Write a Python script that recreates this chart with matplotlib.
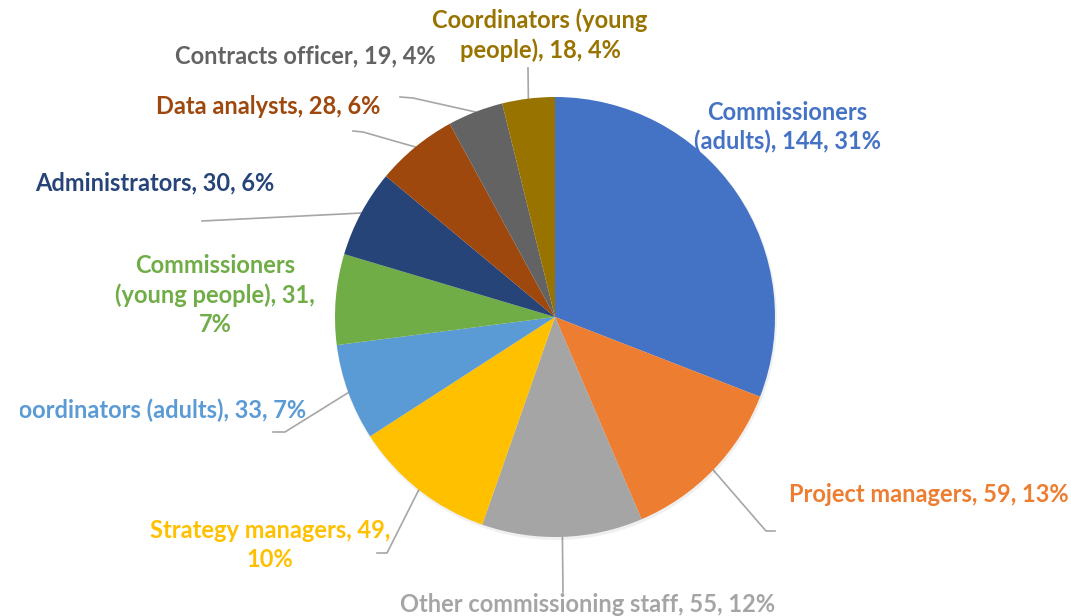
import numpy as np
import matplotlib
matplotlib.use("Agg")
import matplotlib.pyplot as plt
from matplotlib.patches import Rectangle

# ---- data -------------------------------------------------------------------
roles = [
    "Commissioners\n(adults)",
    "Project managers",
    "Other commissioning staff",
    "Strategy managers",
    "Coordinators (adults)",
    "Commissioners\n(young people)",
    "Administrators",
    "Data analysts",
    "Contracts officer",
    "Coordinators (young\npeople)",
]
counts = [144, 59, 55, 49, 33, 31, 30, 28, 19, 18]
percents = [31, 13, 12, 10, 7, 7, 6, 6, 4, 4]
label_texts = [
    "Commissioners\n(adults), 144, 31%",
    "Project managers, 59, 13%",
    "Other commissioning staff, 55, 12%",
    "Strategy managers, 49,\n10%",
    "Coordinators (adults), 33, 7%",
    "Commissioners\n(young people), 31,\n7%",
    "Administrators, 30, 6%",
    "Data analysts, 28, 6%",
    "Contracts officer, 19, 4%",
    "Coordinators (young\npeople), 18, 4%",
]
colors = ["#4472C4", "#ED7D31", "#A5A5A5", "#FFC000", "#5B9BD5",
          "#70AD47", "#264478", "#9E480E", "#636363", "#997300"]

W, H = 1071, 616
CX, CY, R = 555, 317, 220

# label layout in pixel coords (x, y from top), alignment, leader elbow (or None)
label_layout = [
    ((787, 127), "center", None),
    ((929, 495), "center", [(775, 531), (766, 531)]),
    ((588, 604), "center", [(563, 592)]),
    ((270, 545), "center", [(377, 553), (387, 553)]),
    ((306, 410), "right", [(273, 432), (285, 432)]),
    ((215, 295), "center", None),
    ((155, 183), "center", [(202, 221)]),
    ((268, 106), "center", [(353, 131), (363, 132)]),
    ((305, 56), "center", [(400, 97), (413, 98)]),
    ((540, 35), "center", [(528, 68)]),
]


def fy(y):
    return H - y


fig = plt.figure(figsize=(W / 100, H / 100), dpi=100)
ax = fig.add_axes([0, 0, 1, 1])
ax.set_xlim(0, W)
ax.set_ylim(0, H)
ax.set_aspect("equal")
ax.axis("off")

# faint shadow
shadow = plt.Circle((CX + 1, fy(CY) - 2), R + 1, color="#000000", alpha=0.06, lw=0)
ax.add_patch(shadow)

wedges, _ = ax.pie(counts, colors=colors, startangle=90, counterclock=False,
                   center=(CX, fy(CY)), radius=R,
                   wedgeprops=dict(linewidth=0))
ax.set_xlim(0, W)
ax.set_ylim(0, H)

# chart area in the original starts a little in from the left edge
clip = Rectangle((20, 0), W - 20, H, transform=ax.transData, visible=False)
ax.add_patch(clip)

total = sum(counts)
cum = np.cumsum([0] + counts[:-1])
font = ["Lato", "DejaVu Sans"]
for i, txt in enumerate(label_texts):
    (tx, ty), ha, elbow = label_layout[i]
    t = ax.text(tx, fy(ty), txt, ha=ha, va="center", color=colors[i],
                fontsize=17, fontweight="bold", family=font,
                linespacing=1.3, multialignment="center")
    t.set_clip_path(clip)
    t.set_clip_on(True)
    if elbow:
        frac = (cum[i] + counts[i] / 2) / total
        ang = 2 * np.pi * frac
        px = CX + R * np.sin(ang)
        py = CY - R * np.cos(ang)
        pts = list(elbow) + [(px, py)]
        xs = [p[0] for p in pts]
        ys = [fy(p[1]) for p in pts]
        ax.plot(xs, ys, color="#A6A6A6", lw=1.2, zorder=0.5)

fig.savefig("out.png", dpi=100, facecolor="white")
